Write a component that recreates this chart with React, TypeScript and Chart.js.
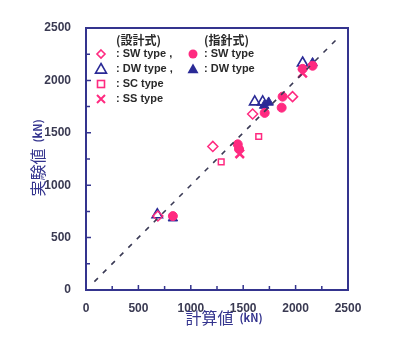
import React, { useEffect, useRef } from "react";
import { Chart, registerables } from "chart.js";

Chart.register(...registerables);

// 設計式 (design formulas)
const swDesign = [
  { x: 686, y: 706 },
  { x: 1210, y: 1370 },
  { x: 1590, y: 1680 },
  { x: 1971, y: 1845 },
];
const dwDesign = [
  { x: 680, y: 718 },
  { x: 1610, y: 1795 },
  { x: 1686, y: 1795 },
  { x: 2067, y: 2166 },
];
const scDesign = [
  { x: 1290, y: 1222 },
  { x: 1648, y: 1465 },
];
const ssDesign = [
  { x: 1467, y: 1300 },
  { x: 2067, y: 2070 },
];
// 指針式 (guideline formulas)
const swGuide = [
  { x: 829, y: 705 },
  { x: 1448, y: 1390 },
  { x: 1460, y: 1345 },
  { x: 1705, y: 1690 },
  { x: 1867, y: 1740 },
  { x: 1876, y: 1845 },
  { x: 2067, y: 2110 },
  { x: 2162, y: 2140 },
];
const dwGuide = [
  { x: 829, y: 685 },
  { x: 1700, y: 1760 },
  { x: 1743, y: 1790 },
  { x: 2162, y: 2166 },
];
const equalLine = [
  { x: 80, y: 80 },
  { x: 2420, y: 2420 },
];
const axisMax = 2500;
const tickStep = 500;
const minorStep = 250;

const PINK = "#ff2a80";
const NAVY = "#2a2a96";
const AXIS = "#34348e";
const TICKTXT = "#3a3a52";

const decoPlugin = {
  id: "deco",
  afterDraw(chart: any) {
    const { ctx, chartArea: a, scales } = chart;
    const xs = scales.x;
    const ys = scales.y;
    ctx.save();
    // box
    ctx.strokeStyle = AXIS;
    ctx.lineWidth = 2;
    ctx.strokeRect(a.left, a.top, a.right - a.left, a.bottom - a.top);
    // inward ticks
    ctx.lineWidth = 1.5;
    for (let v = minorStep; v < axisMax; v += minorStep) {
      const px = xs.getPixelForValue(v);
      const py = ys.getPixelForValue(v);
      const len = v % tickStep === 0 ? 5 : 4;
      ctx.beginPath();
      ctx.moveTo(px, a.bottom);
      ctx.lineTo(px, a.bottom - len);
      ctx.moveTo(a.left, py);
      ctx.lineTo(a.left + len, py);
      ctx.stroke();
    }

    // legend
    const drawMarker = (kind: string, x: number, y: number, color: string) => {
      ctx.save();
      ctx.strokeStyle = color;
      ctx.fillStyle = color;
      ctx.lineWidth = 1.6;
      ctx.beginPath();
      if (kind === "diamond") {
        const r = 4;
        ctx.moveTo(x, y - r);
        ctx.lineTo(x + r, y);
        ctx.lineTo(x, y + r);
        ctx.lineTo(x - r, y);
        ctx.closePath();
        ctx.stroke();
      } else if (kind === "triangle" || kind === "ftriangle") {
        const r = 5.5;
        ctx.moveTo(x, y - r);
        ctx.lineTo(x + r, y + r * 0.75);
        ctx.lineTo(x - r, y + r * 0.75);
        ctx.closePath();
        if (kind === "ftriangle") ctx.fill();
        else ctx.stroke();
      } else if (kind === "square") {
        ctx.strokeRect(x - 3.5, y - 3.5, 7, 7);
      } else if (kind === "cross") {
        ctx.lineWidth = 2;
        ctx.moveTo(x - 4, y - 4);
        ctx.lineTo(x + 4, y + 4);
        ctx.moveTo(x + 4, y - 4);
        ctx.lineTo(x - 4, y + 4);
        ctx.stroke();
      } else if (kind === "circle") {
        ctx.arc(x, y, 4.5, 0, Math.PI * 2);
        ctx.fill();
      }
      ctx.restore();
    };
    ctx.fillStyle = "#2a2a2a";
    ctx.textBaseline = "middle";
    ctx.textAlign = "left";
    ctx.font = "bold 12px 'Noto Sans CJK JP'";
    ctx.fillText("(設計式)", 116, 40);
    ctx.fillText("(指針式)", 204, 40);
    ctx.font = "bold 11px 'Liberation Sans', Arial";
    const rows = [
      { y: 54, m: "diamond", c: PINK, t: ": SW type ,", m2: "circle", c2: PINK, t2: ": SW type" },
      { y: 69, m: "triangle", c: NAVY, t: ": DW type ,", m2: "ftriangle", c2: NAVY, t2: ": DW type" },
      { y: 84, m: "square", c: PINK, t: ": SC type" },
      { y: 99, m: "cross", c: PINK, t: ": SS type" },
    ];
    rows.forEach((r: any) => {
      drawMarker(r.m, 101, r.y, r.c);
      ctx.fillStyle = "#2a2a2a";
      ctx.fillText(r.t, 116, r.y);
      if (r.m2) {
        drawMarker(r.m2, 193, r.y, r.c2);
        ctx.fillStyle = "#2a2a2a";
        ctx.fillText(r.t2, 204, r.y);
      }
    });

    // axis titles
    ctx.fillStyle = AXIS;
    ctx.textBaseline = "middle";
    const big = "16px 'Noto Sans CJK JP'";
    const small = "bold 11px 'Noto Sans CJK JP'";
    ctx.font = big;
    const w1 = ctx.measureText("計算値").width;
    ctx.font = small;
    const w2 = ctx.measureText("(kN)").width;
    const gap = 6;
    const total = w1 + gap + w2;
    const cx = (a.left + a.right) / 2 + 7;
    const sx = cx - total / 2;
    ctx.font = big;
    ctx.textAlign = "left";
    ctx.fillText("計算値", sx, 318);
    ctx.font = small;
    ctx.fillText("(kN)", sx + w1 + gap, 318);

    ctx.save();
    ctx.translate(38, 158);
    ctx.rotate(-Math.PI / 2);
    ctx.font = big;
    const v1 = ctx.measureText("実験値").width;
    ctx.font = small;
    const v2 = ctx.measureText("(kN)").width;
    const vt = v1 + gap + v2;
    const vx = -vt / 2;
    ctx.font = big;
    ctx.fillText("実験値", vx, 0);
    ctx.font = small;
    ctx.fillText("(kN)", vx + v1 + gap, 0);
    ctx.restore();

    ctx.restore();
  },
};

export default function App() {
  const ref = useRef<HTMLCanvasElement | null>(null);
  useEffect(() => {
    if (!ref.current) return;
    const common = { showLine: false, pointHoverRadius: 5 };
    const tickFont = { family: "'Liberation Sans', Arial", size: 12, weight: "bold" };
    const chart = new Chart(ref.current, {
      type: "scatter",
      data: {
        datasets: [
          {
            type: "line",
            data: equalLine,
            borderColor: "#3a3a55",
            borderWidth: 1.6,
            borderDash: [5, 7],
            pointRadius: 0,
            fill: false,
          } as any,
          {
            ...common,
            data: scDesign,
            pointStyle: "rect",
            pointRadius: 4,
            borderColor: PINK,
            backgroundColor: "rgba(255,255,255,0)",
            borderWidth: 1.5,
          },
          {
            ...common,
            data: swDesign,
            pointStyle: "rectRot",
            pointRadius: 5,
            borderColor: PINK,
            backgroundColor: "rgba(255,255,255,0)",
            borderWidth: 1.5,
          },
          {
            ...common,
            data: swGuide,
            pointStyle: "circle",
            pointRadius: 4.5,
            borderColor: PINK,
            backgroundColor: PINK,
            borderWidth: 1,
          },
          {
            ...common,
            data: dwGuide,
            pointStyle: "triangle",
            pointRadius: 5.5,
            borderColor: NAVY,
            backgroundColor: NAVY,
            borderWidth: 1,
          },
          {
            ...common,
            data: dwDesign,
            pointStyle: "triangle",
            pointRadius: 6,
            borderColor: NAVY,
            backgroundColor: "rgba(255,255,255,0)",
            borderWidth: 1.6,
          },
          {
            ...common,
            data: ssDesign,
            pointStyle: "crossRot",
            pointRadius: 6,
            borderColor: PINK,
            borderWidth: 2.5,
          },
        ],
      },
      options: {
        animation: false,
        responsive: false,
        maintainAspectRatio: false,
        layout: { padding: { left: 0, top: 28, right: 52, bottom: 0 } },
        plugins: { legend: { display: false }, tooltip: { enabled: false } },
        scales: {
          x: {
            type: "linear",
            min: 0,
            max: axisMax,
            grid: { display: false },
            border: { display: false },
            ticks: {
              stepSize: tickStep,
              padding: 3,
              color: TICKTXT,
              font: tickFont,
              maxRotation: 0,
              callback: (v: any) => String(v),
            },
            afterFit: (s: any) => {
              s.height = 62;
            },
          },
          y: {
            type: "linear",
            min: 0,
            max: axisMax,
            grid: { display: false },
            border: { display: false },
            ticks: {
              stepSize: tickStep,
              padding: 7,
              color: TICKTXT,
              font: tickFont,
              callback: (v: any) => String(v),
            },
            afterFit: (s: any) => {
              s.width = 86;
            },
          },
        },
      } as any,
      plugins: [decoPlugin],
    });
    return () => chart.destroy();
  }, []);
  return (
    <div style={{ position: "fixed", left: 0, top: 0, width: 400, height: 352, background: "#fff" }}>
      <canvas ref={ref} width={400} height={352} style={{ width: 400, height: 352 }} />
    </div>
  );
}
